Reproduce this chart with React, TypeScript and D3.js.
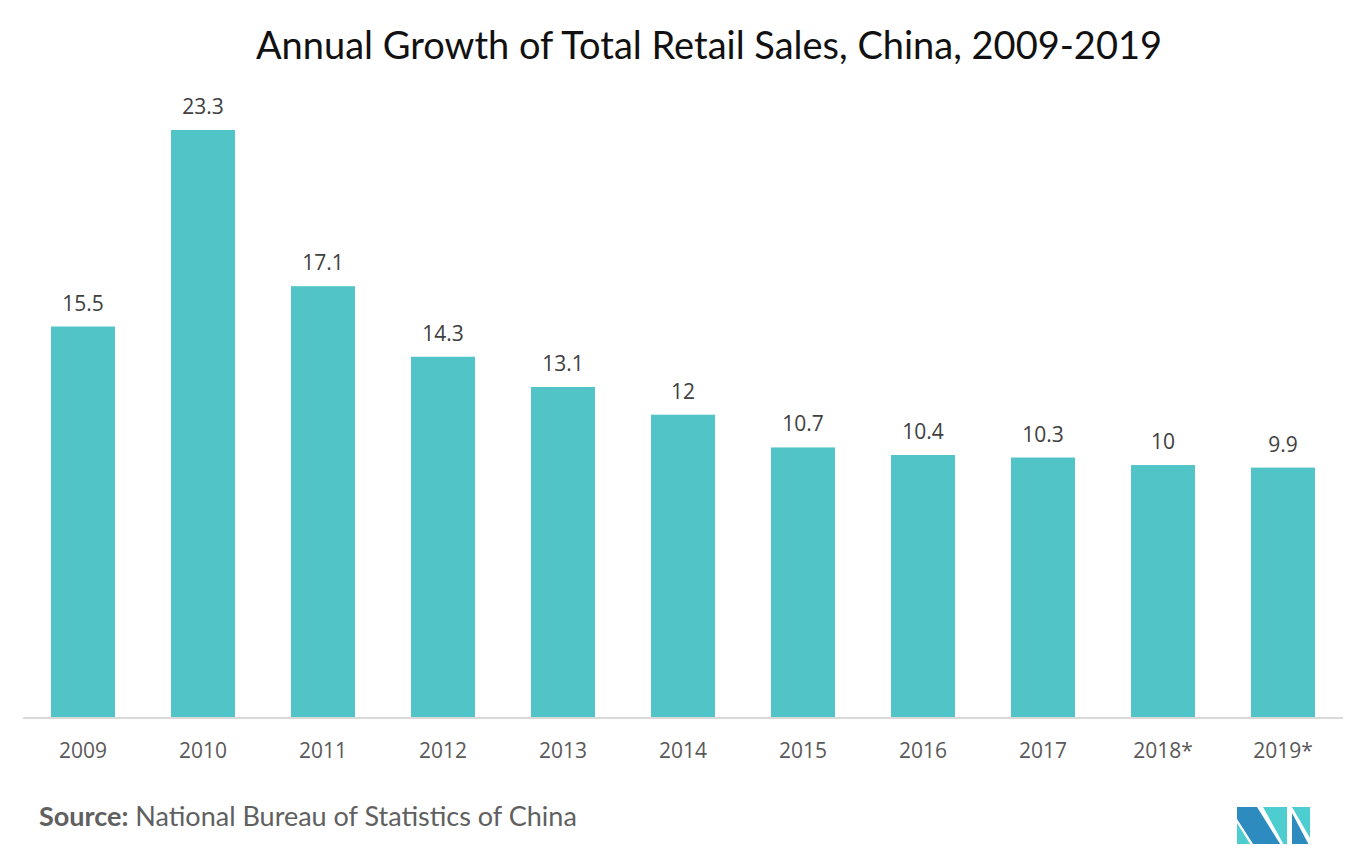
import React, { useEffect, useRef } from 'react';
import * as d3 from 'd3';

const years = ['2009', '2010', '2011', '2012', '2013', '2014', '2015', '2016', '2017', '2018*', '2019*'];
const growth = [15.5, 23.3, 17.1, 14.3, 13.1, 12, 10.7, 10.4, 10.3, 10, 9.9];

const WIDTH = 1364;
const HEIGHT = 852;
const BAR_COLOR = '#51c4c7';

const App: React.FC = () => {
  const svgRef = useRef<SVGSVGElement>(null);

  useEffect(() => {
    if (!svgRef.current) return;
    const svg = d3.select(svgRef.current);
    svg.selectAll('*').remove();

    const baseline = 717;
    const x = d3.scaleBand<string>()
      .domain(years)
      .range([23, 1343])
      .paddingInner(0.467)
      .paddingOuter(0.2335);

    const y = d3.scaleLinear()
      .domain([0, 23.3])
      .range([baseline, 130]);

    // Title
    svg.append('text')
      .attr('x', 709)
      .attr('y', 59)
      .attr('text-anchor', 'middle')
      .attr('font-family', 'Lato, "Noto Sans", sans-serif')
      .attr('font-size', 38)
      .attr('fill', '#111')
      .text('Annual Growth of Total Retail Sales, China, 2009-2019');

    // Bars
    svg.append('g')
      .selectAll('rect')
      .data(growth)
      .join('rect')
      .attr('x', (_, i) => x(years[i])!)
      .attr('y', d => y(d))
      .attr('width', x.bandwidth())
      .attr('height', d => baseline - y(d))
      .attr('fill', BAR_COLOR);

    // Value labels
    svg.append('g')
      .selectAll('text')
      .data(growth)
      .join('text')
      .attr('x', (_, i) => x(years[i])! + x.bandwidth() / 2)
      .attr('y', d => y(d) - 16)
      .attr('text-anchor', 'middle')
      .attr('font-family', '"Open Sans", "Noto Sans", sans-serif')
      .attr('font-size', 21)
      .attr('fill', '#404040')
      .text(d => String(d));

    // Axis line
    svg.append('line')
      .attr('x1', 23)
      .attr('x2', 1343)
      .attr('y1', baseline + 1)
      .attr('y2', baseline + 1)
      .attr('stroke', '#d9d9d9')
      .attr('stroke-width', 2);

    // Category labels
    svg.append('g')
      .selectAll('text')
      .data(years)
      .join('text')
      .attr('x', d => x(d)! + x.bandwidth() / 2)
      .attr('y', 758)
      .attr('text-anchor', 'middle')
      .attr('font-family', '"Open Sans", "Noto Sans", sans-serif')
      .attr('font-size', 21)
      .attr('fill', '#595959')
      .text(d => d);

    // Source
    const src = svg.append('text')
      .attr('x', 39)
      .attr('y', 826)
      .attr('font-family', 'Lato, "Noto Sans", sans-serif')
      .attr('font-size', 27)
      .attr('fill', '#606060');
    src.append('tspan').attr('font-weight', 'bold').text('Source:');
    src.append('tspan').text(' National Bureau of Statistics of China');

    // Logo
    const logo = svg.append('g');
    const dark = '#2e8bc0';
    const teal = '#4ecdd0';
    const polys: [string, [number, number][]][] = [
      [teal, [[1237, 823], [1237, 847], [1252, 847]]],
      [dark, [[1237, 807], [1257, 807], [1282, 847], [1255, 847], [1237, 819]]],
      [teal, [[1263, 807], [1287, 807], [1287, 847], [1285, 847]]],
      [teal, [[1292, 807], [1310, 807], [1310, 838]]],
      [dark, [[1292, 813], [1310, 847], [1292, 847]]],
    ];
    polys.forEach(([c, pts]) => {
      logo.append('polygon')
        .attr('points', pts.map(p => p.join(',')).join(' '))
        .attr('fill', c);
    });
  }, []);

  return <svg ref={svgRef} width={WIDTH} height={HEIGHT} style={{ display: 'block', margin: -8 }} />;
};

export default App;
